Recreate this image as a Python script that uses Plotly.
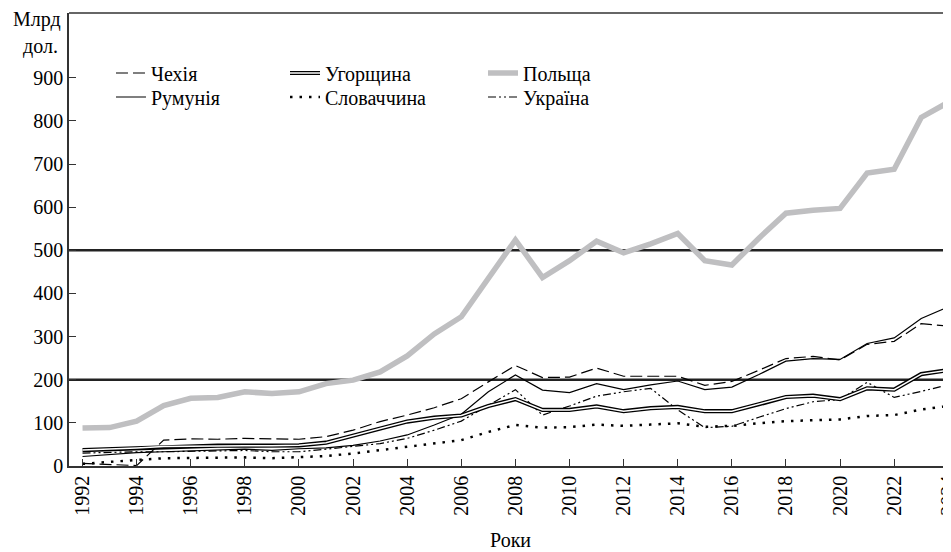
import plotly.graph_objects as go

# GDP, bn USD
years = list(range(1992, 2025))

czechia = [6, 4, 1, 60, 63, 62, 64, 63, 62, 68, 83, 103, 118, 135, 156, 195, 233,
           205, 206, 227, 208, 208, 208, 187, 196, 222, 249, 254, 246, 282, 289, 330, 324]
romania = [22, 27, 31, 33, 35, 36, 39, 36, 40, 42, 48, 58, 72, 95, 120, 172, 211,
           176, 170, 191, 177, 188, 197, 177, 183, 212, 243, 249, 247, 284, 297, 342, 369]
hungary = [37, 39, 42, 45, 46, 47, 47, 47, 48, 54, 71, 87, 103, 112, 117, 139, 155,
           130, 130, 138, 127, 134, 137, 127, 127, 143, 160, 163, 155, 180, 177, 213, 222]
slovakia = [5, 10, 14, 18, 19, 20, 20, 18, 21, 23, 29, 37, 45, 52, 60, 79, 95,
            89, 90, 96, 93, 96, 99, 91, 93, 99, 104, 106, 108, 116, 118, 131, 139]
poland = [88, 89, 104, 140, 157, 159, 172, 168, 172, 191, 199, 218, 255, 306, 346, 435, 524,
          437, 476, 521, 494, 515, 539, 476, 466, 528, 586, 593, 597, 679, 688, 808, 843]
ukraine = [30, 32, 33, 33, 34, 35, 36, 33, 33, 39, 45, 52, 64, 83, 104, 141, 177,
           118, 139, 162, 172, 180, 130, 89, 92, 113, 133, 149, 154, 194, 159, 173, 188]

y_ticks = list(range(0, 1000, 100))
x_ticks = years[::2]
ref_levels = [200, 500]

FONT = "Liberation Serif, Times New Roman, serif"

fig = go.Figure()

# one small legend per entry so the 3x2 grid can be placed exactly
fig.add_trace(go.Scatter(x=years, y=czechia, name="Чехія", mode="lines", legend="legend",
                         line=dict(color="black", width=1.2, dash="12px,5px")))
fig.add_trace(go.Scatter(x=years, y=romania, name="Румунія", mode="lines", legend="legend2",
                         line=dict(color="black", width=1.2)))
fig.add_trace(go.Scatter(x=years, y=hungary, name="Угорщина", mode="lines", legend="legend3",
                         line=dict(color="black", width=4.2)))
fig.add_trace(go.Scatter(x=years, y=slovakia, name="Словаччина", mode="lines", legend="legend4",
                         line=dict(color="black", width=2.5, dash="2.5px,7px")))
fig.add_trace(go.Scatter(x=years, y=poland, name="Польща", mode="lines", legend="legend5",
                         line=dict(color="#bfbfc1", width=5.5)))
fig.add_trace(go.Scatter(x=years, y=ukraine, name="Україна", mode="lines", legend="legend6",
                         line=dict(color="black", width=1.2, dash="8px,3px,2px,3px,2px,3px")))
# white core makes the Hungary line double (its legend sits on top of legend3)
fig.add_trace(go.Scatter(x=years, y=hungary, name=" ", mode="lines", legend="legend7",
                         line=dict(color="white", width=1.5), hoverinfo="skip"))

for lvl in ref_levels:
    fig.add_shape(type="line", xref="paper", x0=0, x1=1, yref="y", y0=lvl, y1=lvl,
                  line=dict(color="#222", width=2.5), layer="below")
# top frame line
fig.add_shape(type="line", xref="paper", x0=0, x1=1, yref="paper", y0=1, y1=1,
              line=dict(color="#333", width=1.5))

leg = dict(xanchor="left", yanchor="middle", bgcolor="rgba(0,0,0,0)",
           borderwidth=0, font=dict(family=FONT, size=20, color="black"))
col_x = [0.0476, 0.2449, 0.4694]
row_y = [0.8675, 0.8146]

# page body has an 8px margin, so the figure is 8px smaller than the window
fig.update_layout(
    width=943, height=544,
    margin=dict(l=61, r=0, t=5, b=86, autoexpand=False),
    plot_bgcolor="white", paper_bgcolor="white",
    font=dict(family=FONT, size=20, color="black"),
    showlegend=True,
    legend=dict(leg, x=col_x[0], y=row_y[0]),
    legend2=dict(leg, x=col_x[0], y=row_y[1]),
    legend3=dict(leg, x=col_x[1], y=row_y[0]),
    legend4=dict(leg, x=col_x[1], y=row_y[1]),
    legend5=dict(leg, x=col_x[2], y=row_y[0]),
    legend6=dict(leg, x=col_x[2], y=row_y[1]),
    legend7=dict(leg, x=col_x[1], y=row_y[0]),
    xaxis=dict(range=[1991.5, 2024.1], tickvals=x_ticks, tickangle=-90,
               ticks="inside", ticklen=7, tickcolor="#333", tickwidth=1.2,
               showline=True, linecolor="#333", linewidth=1.5,
               showgrid=False, zeroline=False, automargin=False,
               ticklabeloverflow="allow"),
    yaxis=dict(range=[0, 1050], tickvals=y_ticks,
               ticks="inside", ticklen=7, tickcolor="#333", tickwidth=1.2,
               showline=True, linecolor="#333", linewidth=1.5,
               showgrid=False, zeroline=False, automargin=False),
    annotations=[
        dict(text="Млрд", xref="paper", yref="paper", x=0, y=0.985, xanchor="right",
             yanchor="middle", xshift=-7, showarrow=False, borderpad=0),
        dict(text="дол.", xref="paper", yref="paper", x=0, y=0.925, xanchor="right",
             yanchor="middle", xshift=-9, showarrow=False),
        dict(text="Роки", xref="paper", yref="paper", x=0.5, y=-0.163, xanchor="center",
             yanchor="middle", showarrow=False),
    ],
)

fig.write_html("out.html")
